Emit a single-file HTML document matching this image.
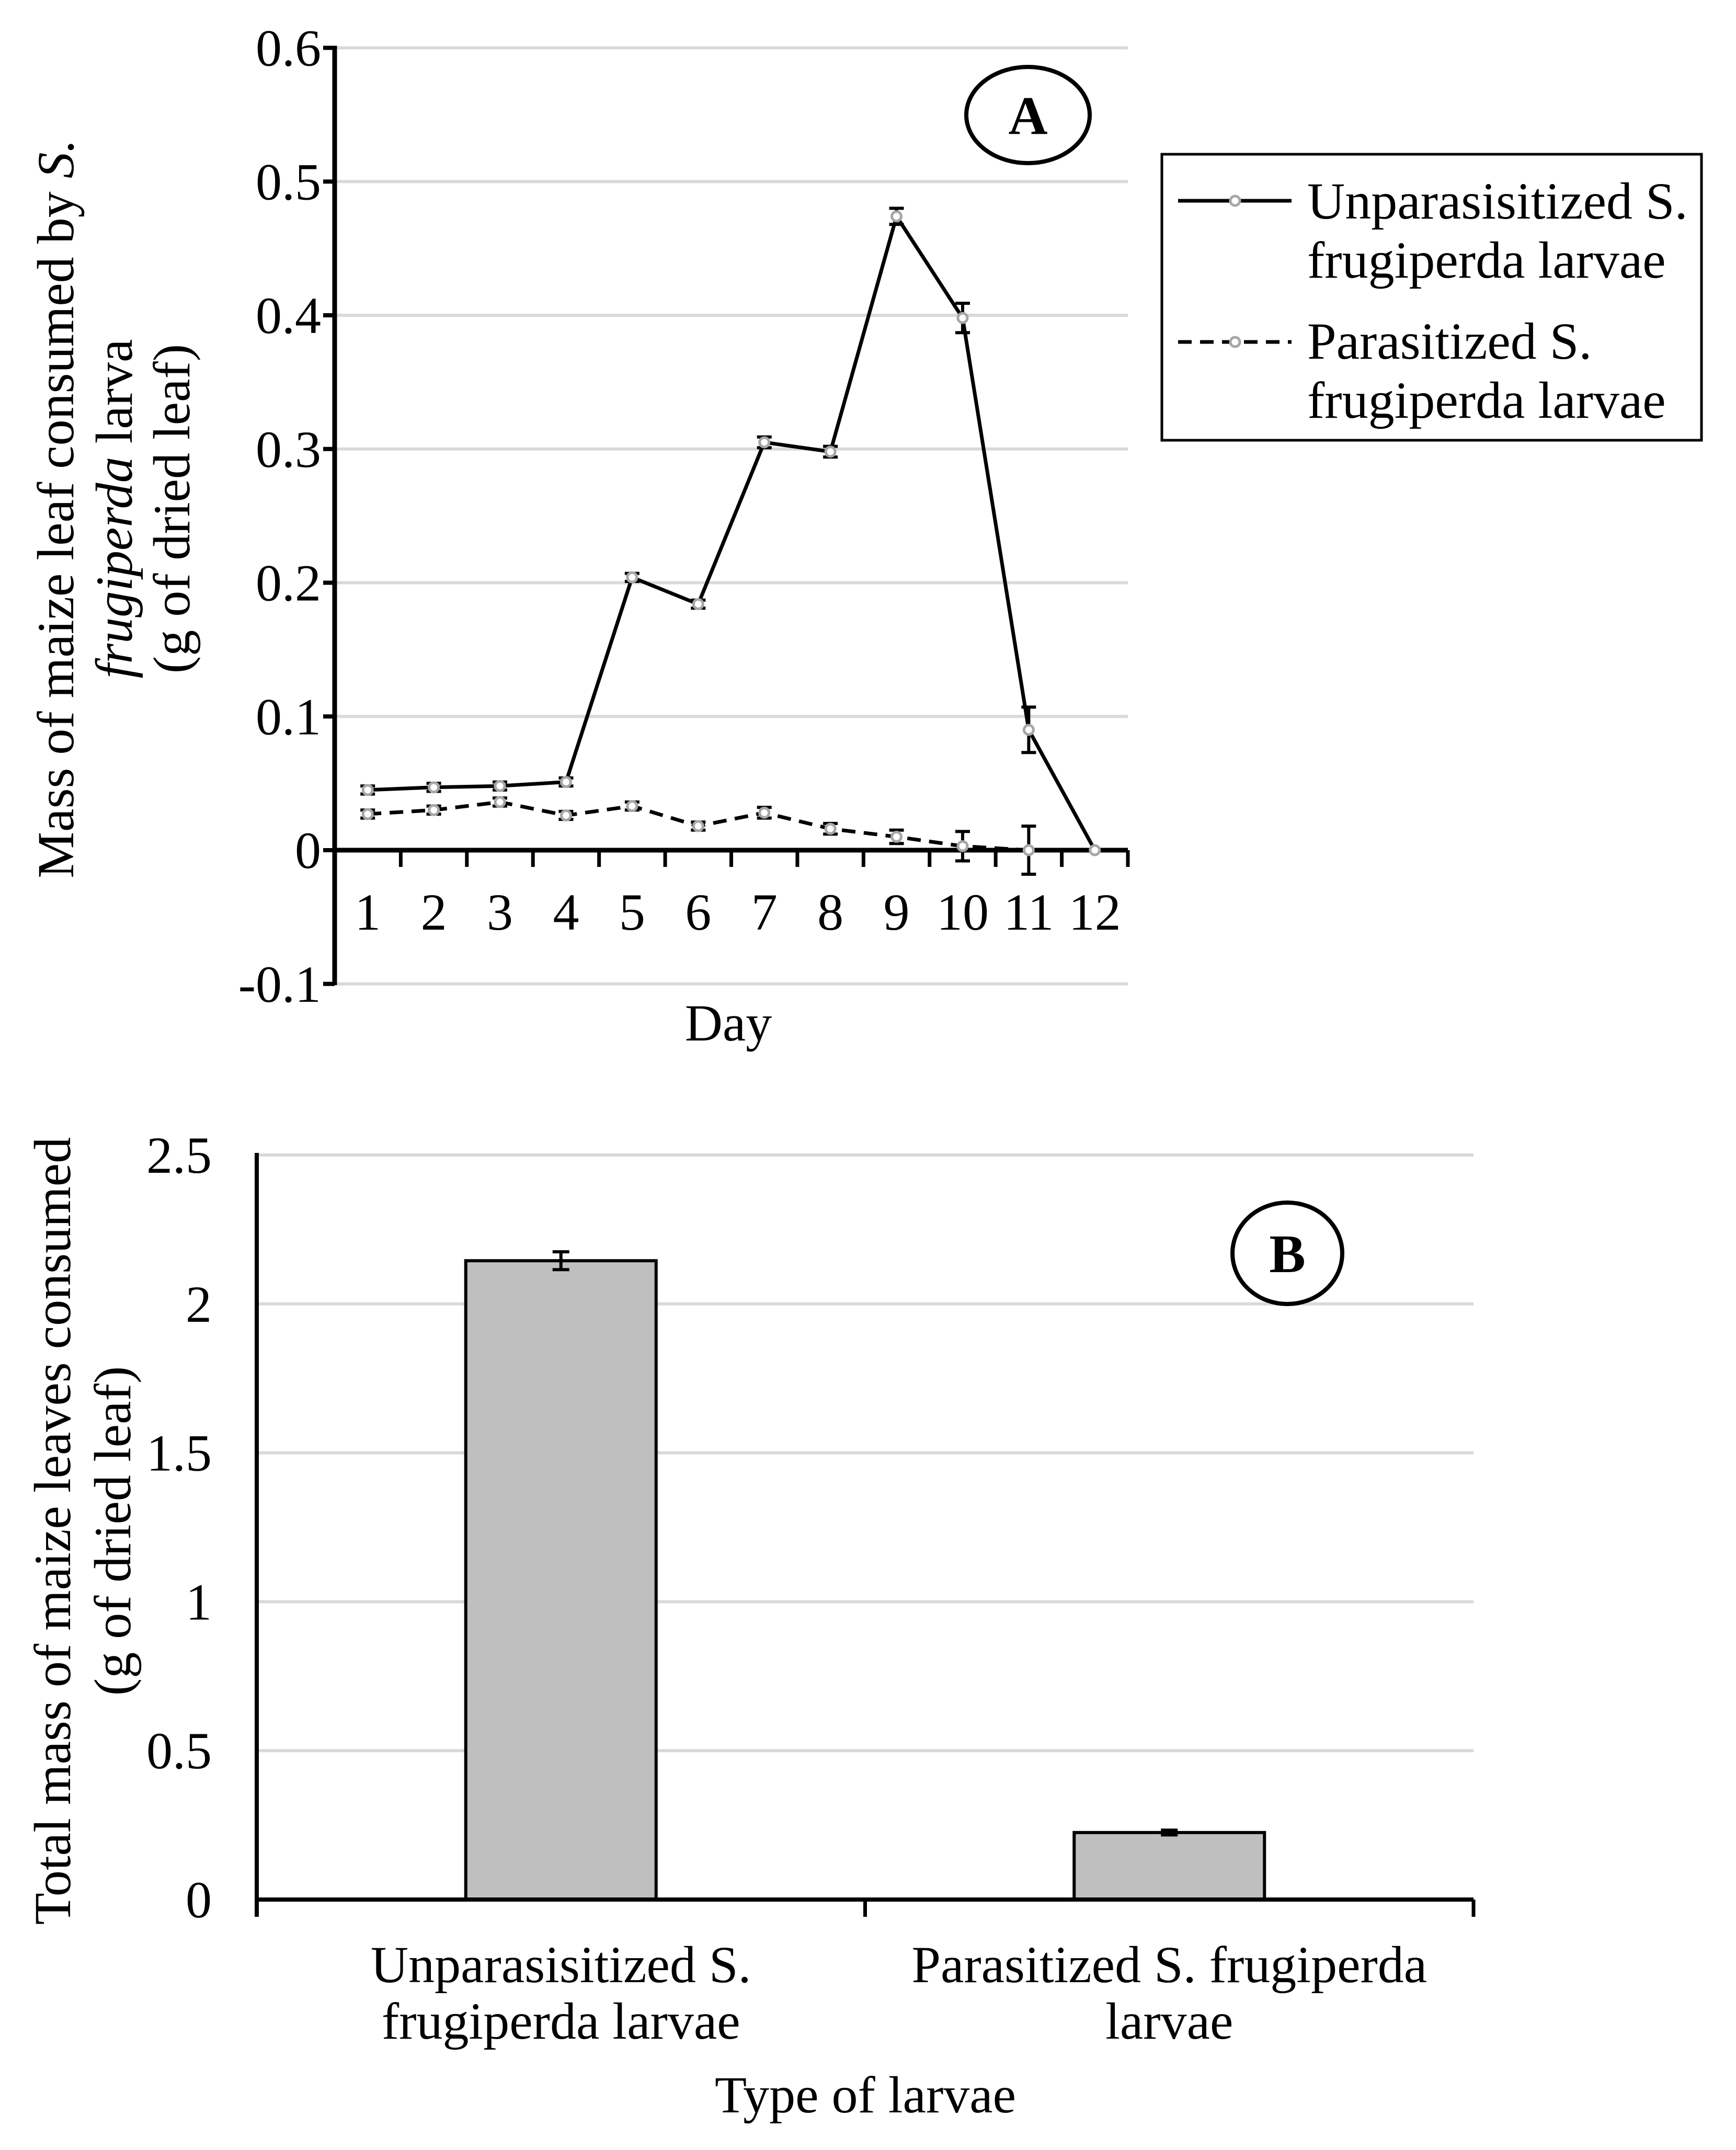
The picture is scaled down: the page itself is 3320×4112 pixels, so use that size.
<!DOCTYPE html>
<html><head><meta charset="utf-8"><style>
html,body{margin:0;padding:0;background:#fff}
svg{display:block}
text{font-family:"Liberation Serif",serif;fill:#000}
</style></head>
<body>
<svg id="fig" xmlns="http://www.w3.org/2000/svg" width="3320" height="4112" viewBox="0 0 3320 4112">
<g id="chartA"></g>
<g id="chartB"></g>
</svg>
<script>
const days = ["1","2","3","4","5","6","7","8","9","10","11","12"];
const unparValues = [0.045,0.047,0.048,0.051,0.204,0.184,0.305,0.298,0.474,0.398,0.090,0.0];
const unparErrors = [0.003,0.003,0.003,0.003,0.003,0.003,0.004,0.004,0.006,0.011,0.017,0];
const parValues = [0.027,0.030,0.036,0.026,0.033,0.018,0.028,0.016,0.010,0.003,0.0];
const parErrors = [0.003,0.003,0.003,0.003,0.003,0.003,0.004,0.004,0.005,0.011,0.018];
const aTicks = [-0.1,0,0.1,0.2,0.3,0.4,0.5,0.6];
const aTickLabels = ["-0.1","0","0.1","0.2","0.3","0.4","0.5","0.6"];
const bCategories = [["Unparasisitized S.","frugiperda larvae"],["Parasitized S. frugiperda","larvae"]];
const bValues = [2.145,0.225];
const bErrors = [0.03,0.008];
const bTicks = [0,0.5,1,1.5,2,2.5];
const bTickLabels = ["0","0.5","1","1.5","2","2.5"];

const NS="http://www.w3.org/2000/svg";
const FS=100;
function mk(parent,tag,attrs,text){const e=document.createElementNS(NS,tag);for(const k in attrs)e.setAttribute(k,attrs[k]);if(text!==undefined)e.textContent=text;parent.appendChild(e);return e;}

// ---------- Chart A ----------
const A=document.getElementById('chartA');
const aL=640,aR=2157,aTop=91.5,aZero=1626,aBot=1880;
const ay=v=>aZero-(v)*(aZero-aTop)/0.6;
const acw=(aR-aL)/days.length;
const ax=i=>aL+acw*(i+0.5);
aTicks.forEach((t,i)=>{
  if(t!==0){const g=mk(A,'line',{x1:aL,x2:aR,y1:ay(t),y2:ay(t),stroke:'#d9d9d9','stroke-width':6});
  
  }
  const tk=mk(A,'line',{x1:aL-22,x2:aL,y1:ay(t),y2:ay(t),stroke:'#000','stroke-width':8});
  
  
  const lb=mk(A,'text',{x:614,y:ay(t)+34,'font-size':FS,'text-anchor':'end'},aTickLabels[i]);
  
  
});
const yaxA=mk(A,'line',{x1:aL,x2:aL,y1:aTop-4,y2:aBot+4,stroke:'#000','stroke-width':9});


const xaxA=mk(A,'line',{x1:aL,x2:aR,y1:aZero,y2:aZero,stroke:'#000','stroke-width':9});


for(let i=0;i<=days.length;i++){
  const x=aL+acw*i;
  const t=mk(A,'line',{x1:x,x2:x,y1:aZero,y2:aZero+32,stroke:'#000','stroke-width':7});
  
  
}
days.forEach((d,i)=>{
  const t=mk(A,'text',{x:ax(i),y:1778,'font-size':FS,'text-anchor':'middle'},d);
  
  
});
function series(vals,errs,dash,name){
  const pts=vals.map((v,i)=>ax(i)+','+ay(v)).join(' ');
  const p=mk(A,'polyline',{points:pts,fill:'none',stroke:'#000','stroke-width':7,'stroke-dasharray':dash});
  
  
  vals.forEach((v,i)=>{
    if(errs[i]>0){
      const x=ax(i),y1=ay(v+errs[i]),y2=ay(v-errs[i]);
      const e=mk(A,'path',{d:`M${x},${y1}V${y2}M${x-14},${y1}H${x+14}M${x-14},${y2}H${x+14}`,stroke:'#000','stroke-width':6,fill:'none'});
      
      
    }
    const c=mk(A,'circle',{cx:ax(i),cy:ay(v),r:9,fill:'#fff',stroke:'#a6a6a6','stroke-width':5});
    
    
  });
}
series(parValues,parErrors,'26 16','parasitized');
series(unparValues,unparErrors,'none','unparasitized');
const cA=mk(A,'ellipse',{cx:1966,cy:220,rx:118,ry:92,fill:'#fff',stroke:'#000','stroke-width':8});


const tA=mk(A,'text',{x:1966,y:256,'font-size':104,'font-weight':'bold','text-anchor':'middle'},'A');


// legend
const lg=mk(A,'g',{});


mk(lg,'rect',{x:2222,y:295,width:1032,height:547,fill:'#fff',stroke:'#000','stroke-width':5});
mk(lg,'line',{x1:2253,x2:2470,y1:384,y2:384,stroke:'#000','stroke-width':7});
mk(lg,'circle',{cx:2362,cy:384,r:9,fill:'#fff',stroke:'#a6a6a6','stroke-width':5});
mk(lg,'line',{x1:2253,x2:2470,y1:654,y2:654,stroke:'#000','stroke-width':7,'stroke-dasharray':'26 16'});
mk(lg,'circle',{cx:2362,cy:654,r:9,fill:'#fff',stroke:'#a6a6a6','stroke-width':5});
[['Unparasisitized S.',418],['frugiperda larvae',531],['Parasitized S.',686],['frugiperda larvae',799]].forEach(([s,y])=>{
  const t=mk(lg,'text',{x:2500,y:y,'font-size':FS},s);
  
  
});
// y title A
const ytA=mk(A,'text',{transform:'translate(0,973) rotate(-90)','font-size':FS,'text-anchor':'middle'});


mk(ytA,'tspan',{x:0,y:140},'Mass of maize leaf consumed by ');
mk(ytA,'tspan',{'font-style':'italic'},'S.');
mk(ytA,'tspan',{x:0,y:252,'font-style':'italic'},'frugiperda');
mk(ytA,'tspan',{},' larva');
mk(ytA,'tspan',{x:0,y:362},'(g of dried leaf)');
const xtA=mk(A,'text',{x:1393,y:1990,'font-size':FS,'text-anchor':'middle'},'Day');



// ---------- Chart B ----------
const B=document.getElementById('chartB');
const bL=491,bR=2818,bTop=2209,bZero=3633;
const by=v=>bZero-v*(bZero-bTop)/2.5;
const bcw=(bR-bL)/bValues.length;
const bx=i=>bL+bcw*(i+0.5);
bTicks.forEach((t,i)=>{
  if(t!==0){const g=mk(B,'line',{x1:bL,x2:bR,y1:by(t),y2:by(t),stroke:'#d9d9d9','stroke-width':6});
  
  }
  const lb=mk(B,'text',{x:405,y:by(t)+34,'font-size':FS,'text-anchor':'end'},bTickLabels[i]);
  
  
});
bValues.forEach((v,i)=>{
  const w=364,x=bx(i)-w/2;
  const r=mk(B,'rect',{x:x,y:by(v),width:w,height:bZero-by(v),fill:'#bfbfbf',stroke:'#000','stroke-width':6});
  
  
  const cx=bx(i),y1=by(v+bErrors[i]),y2=by(v-bErrors[i]);
  const e=mk(B,'path',{d:`M${cx},${y1}V${y2}M${cx-16},${y1}H${cx+16}M${cx-16},${y2}H${cx+16}`,stroke:'#000','stroke-width':6,fill:'none'});
  
  
  bCategories[i].forEach((s,j)=>{
    const t=mk(B,'text',{x:bx(i),y:3791+j*108,'font-size':FS,'text-anchor':'middle'},s);
    
    
  });
});
const yaxB=mk(B,'line',{x1:bL,x2:bL,y1:bTop-4,y2:bZero+33,stroke:'#000','stroke-width':8});


const xaxB=mk(B,'line',{x1:bL,x2:bR,y1:bZero,y2:bZero,stroke:'#000','stroke-width':8});


for(let i=0;i<=bValues.length;i++){
  const x=bL+bcw*i;
  const t=mk(B,'line',{x1:x,x2:x,y1:bZero,y2:bZero+33,stroke:'#000','stroke-width':7});
  
  
}
const cB=mk(B,'ellipse',{cx:2462,cy:2397,rx:105,ry:97,fill:'#fff',stroke:'#000','stroke-width':8});


const tB=mk(B,'text',{x:2462,y:2433,'font-size':104,'font-weight':'bold','text-anchor':'middle'},'B');


const ytB=mk(B,'text',{transform:'translate(0,2928) rotate(-90)','font-size':FS,'text-anchor':'middle'});


mk(ytB,'tspan',{x:0,y:134},'Total mass of maize leaves consumed');
mk(ytB,'tspan',{x:0,y:249},'(g of dried leaf)');
const xtB=mk(B,'text',{x:1655,y:4040,'font-size':FS,'text-anchor':'middle'},'Type of larvae');


</script>
</body></html>
